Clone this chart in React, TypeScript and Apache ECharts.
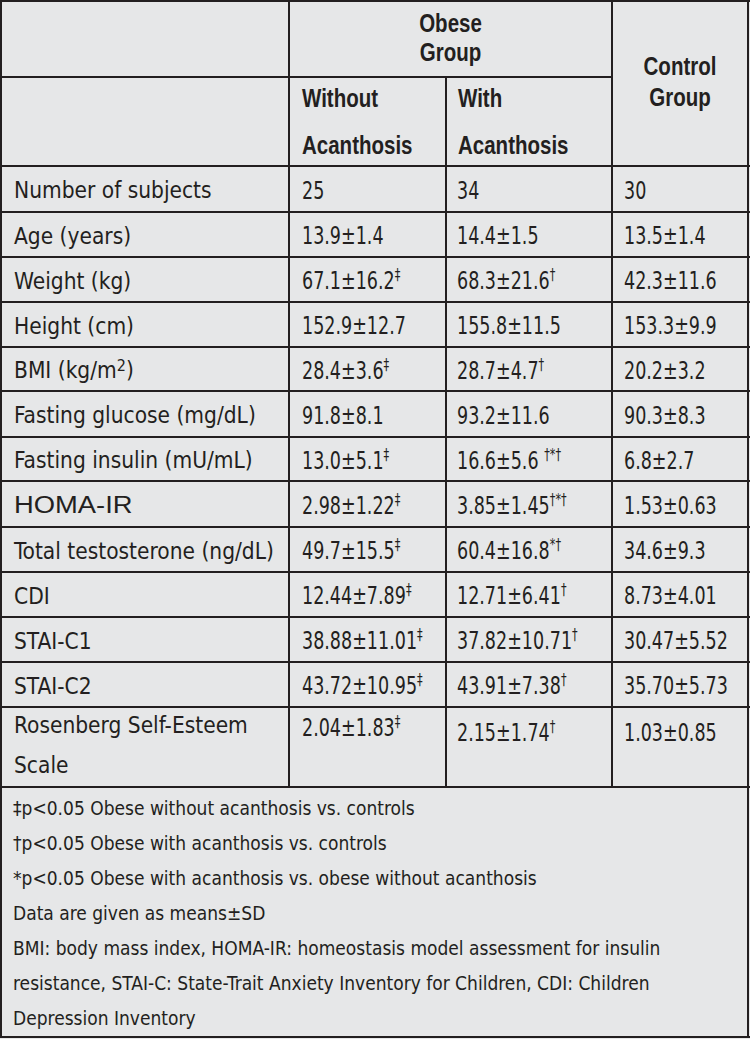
import React, { useEffect, useRef } from "react";
import * as echarts from "echarts";

// ---- Data ----
const rowLabels = [
  "Number of subjects",
  "Age (years)",
  "Weight (kg)",
  "Height (cm)",
  "BMI (kg/m2)",
  "Fasting glucose (mg/dL)",
  "Fasting insulin (mU/mL)",
  "HOMA-IR",
  "Total testosterone (ng/dL)",
  "CDI",
  "STAI-C1",
  "STAI-C2",
  "Rosenberg Self-Esteem Scale",
];
const withoutAcanthosis = [
  "25", "13.9±1.4", "67.1±16.2", "152.9±12.7", "28.4±3.6", "91.8±8.1", "13.0±5.1",
  "2.98±1.22", "49.7±15.5", "12.44±7.89", "38.88±11.01", "43.72±10.95", "2.04±1.83",
];
const withoutMarks = ["", "", "‡", "", "‡", "", "‡", "‡", "‡", "‡", "‡", "‡", "‡"];
const withAcanthosis = [
  "34", "14.4±1.5", "68.3±21.6", "155.8±11.5", "28.7±4.7", "93.2±11.6", "16.6±5.6 ",
  "3.85±1.45", "60.4±16.8", "12.71±6.41", "37.82±10.71", "43.91±7.38", "2.15±1.74",
];
const withMarks = ["", "", "†", "", "†", "", "†*†", "†*†", "*†", "†", "†", "†", "†"];
const controlGroup = [
  "30", "13.5±1.4", "42.3±11.6", "153.3±9.9", "20.2±3.2", "90.3±8.3", "6.8±2.7",
  "1.53±0.63", "34.6±9.3", "8.73±4.01", "30.47±5.52", "35.70±5.73", "1.03±0.85",
];
const headerTop = "Obese\nGroup";
const headerControl = "Control\nGroup";
const subHeaders = ["Without\nAcanthosis", "With\nAcanthosis"];
const footnotes = [
  "‡p<0.05 Obese without acanthosis vs. controls",
  "†p<0.05 Obese with acanthosis vs. controls",
  "*p<0.05 Obese with acanthosis vs. obese without acanthosis",
  "Data are given as means±SD",
  "BMI: body mass index, HOMA-IR: homeostasis model assessment for insulin",
  "resistance, STAI-C: State-Trait Anxiety Inventory for Children, CDI: Children",
  "Depression Inventory",
];

// ---- Layout ----
const W = 750;
const H = 1039;
const colX = [1, 289, 446, 612, 748];
const rowY = [166, 212, 257, 302, 347, 391, 437, 481, 527, 572, 617, 662, 707, 787];
const INK = "#231f20";
const BG = "#e6e7e8";
const BODY_FONT = "'DejaVu Sans Condensed', 'DejaVu Sans', sans-serif";
const BOLD_FONT = "'Liberation Sans', Arial, sans-serif";

function line(x1: number, y1: number, x2: number, y2: number) {
  return {
    type: "line",
    shape: { x1, y1, x2, y2 },
    style: { stroke: INK, lineWidth: 2 },
    silent: true,
  };
}

const supRich = {
  s: { fontSize: 16, lineHeight: 14, verticalAlign: "top", fill: INK, fontFamily: BODY_FONT },
  p: { fontSize: 16, lineHeight: 16, verticalAlign: "top", fill: INK, fontFamily: BODY_FONT },
};

function bodyText(x: number, y: number, text: string, extra: any = {}, scaleX = 1) {
  return {
    type: "text",
    x,
    y,
    scaleX,
    silent: true,
    style: {
      text,
      fill: INK,
      fontSize: 22.5,
      fontFamily: BODY_FONT,
      lineHeight: 26,
      align: "left",
      verticalAlign: "middle",
      textAlign: "left",
      textVerticalAlign: "middle",
      rich: supRich,
      ...extra,
    },
  };
}

function valueText(x: number, y: number, text: string) {
  return bodyText(x, y, text, { fontSize: 25, lineHeight: 28 }, 0.78);
}

function boldText(x: number, y: number, text: string, lh: number, align = "center") {
  return {
    type: "text",
    x,
    y,
    scaleX: 0.82,
    silent: true,
    style: {
      text,
      fill: INK,
      fontSize: 25,
      fontWeight: "bold",
      fontFamily: BOLD_FONT,
      lineHeight: lh,
      align,
      verticalAlign: "middle",
      textAlign: align,
      textVerticalAlign: "middle",
    },
  };
}

function buildGraphic() {
  const els: any[] = [];
  els.push({ type: "rect", shape: { x: 0, y: 0, width: W, height: H }, style: { fill: BG }, silent: true });

  // horizontal lines
  els.push(line(0, 1, W, 1));
  els.push(line(0, 77, colX[3], 77));
  rowY.forEach((y) => els.push(line(0, y, W, y)));
  els.push(line(0, 1037, W, 1037));
  // vertical lines
  els.push(line(1, 0, 1, 1038));
  els.push(line(colX[1], 0, colX[1], 787));
  els.push(line(colX[2], 77, colX[2], 787));
  els.push(line(colX[3], 0, colX[3], 787));
  els.push(line(colX[4], 0, colX[4], 1038));

  // headers
  els.push(boldText((colX[1] + colX[3]) / 2, 38, headerTop, 29));
  els.push(boldText((colX[3] + colX[4]) / 2, 82, headerControl, 31));
  els.push(boldText(colX[1] + 13, 122, subHeaders[0], 47, "left"));
  els.push(boldText(colX[2] + 12, 122, subHeaders[1], 47, "left"));

  // body rows
  rowLabels.forEach((lab, i) => {
    const top = rowY[i];
    const bot = rowY[i + 1];
    const last = i === rowLabels.length - 1;
    const cy = last ? top + 20 : (top + bot) / 2 + 1;
    let labelText = lab.replace("m2)", "m{p|2})");
    if (last) {
      labelText = lab.replace("Esteem ", "Esteem\n");
      els.push(bodyText(14, top + 38, labelText, { lineHeight: 40 }));
    } else if (lab === "HOMA-IR") {
      els.push(bodyText(14, cy, labelText, { fontFamily: "'Liberation Sans', Arial, sans-serif", fontSize: 24 }, 1.14));
    } else {
      els.push(bodyText(14, cy, labelText));
    }
    const m1 = withoutMarks[i] ? "{s|" + withoutMarks[i] + "}" : "";
    const m2 = withMarks[i] ? "{s|" + withMarks[i] + "}" : "";
    els.push(valueText(colX[1] + 13, cy, withoutAcanthosis[i] + m1));
    els.push(valueText(colX[2] + 11, last ? cy + 5 : cy, withAcanthosis[i] + m2));
    els.push(valueText(colX[3] + 12, last ? cy + 5 : cy, controlGroup[i]));
  });

  // footnotes
  footnotes.forEach((f, i) => {
    els.push({
      type: "text",
      x: 13,
      y: 808 + i * 35,
      silent: true,
      style: {
        text: f,
        fill: INK,
        fontSize: 19,
        fontFamily: BODY_FONT,
        align: "left",
        verticalAlign: "middle",
        textAlign: "left",
        textVerticalAlign: "middle",
      },
    });
  });
  return els;
}

export default function App() {
  const ref = useRef<HTMLDivElement>(null);
  useEffect(() => {
    if (!ref.current) return;
    const chart = echarts.init(ref.current, null, { renderer: "svg" });
    chart.setOption({
      animation: false,
      backgroundColor: BG,
      graphic: { elements: buildGraphic() },
    });
    return () => chart.dispose();
  }, []);
  return (
    <div
      ref={ref}
      style={{ position: "absolute", left: 0, top: 0, width: W, height: H }}
    />
  );
}
